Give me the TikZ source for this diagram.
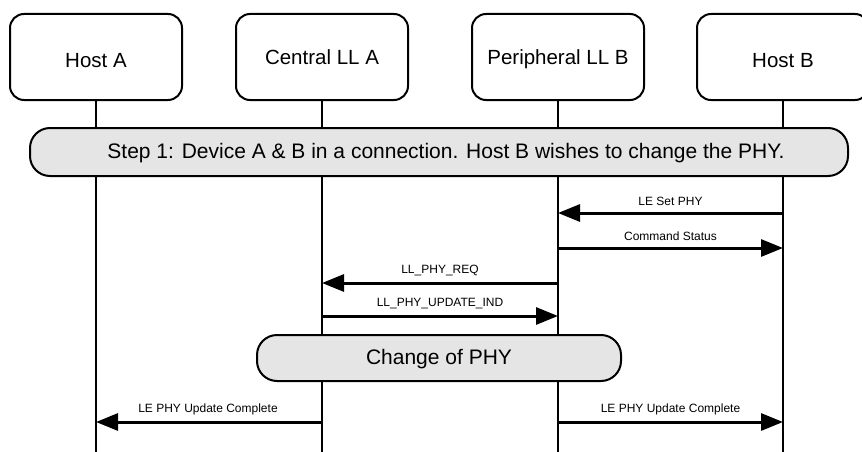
\documentclass[tikz,border=0pt]{standalone}
\usepackage{fontspec}
\setmainfont{Liberation Sans}
\usetikzlibrary{arrows.meta}
\begin{document}
\begin{tikzpicture}[x=1pt,y=-1pt,
  actor/.style={draw,line width=2pt,rounded corners=14pt,minimum width=172pt,minimum height=86pt,inner sep=0pt,font=\fontsize{20.5}{24}\selectfont,text height=20pt,text depth=5pt},
  hostactor/.style={actor,text height=23pt,text depth=2pt},
  band/.style={draw,line width=2pt,rounded corners=20pt,fill=black!10,inner sep=0pt,font=\fontsize{21}{24}\selectfont,text height=17pt,text depth=4pt},
  life/.style={line width=2pt},
  msg/.style={line width=3pt,-{Triangle[length=22pt,width=17pt]}},
  lbl/.style={font=\fontsize{12}{14}\selectfont,inner sep=0pt}]
\useasboundingbox (0,0) rectangle (862,452);
\clip (0,0) rectangle (862,452);
\node[hostactor] (ha) at (96,57) {Host A};
\node[actor] (ca) at (322,57) {Central LL A};
\node[actor] (pb) at (558,57) {Peripheral LL B};
\node[hostactor] (hb) at (783,57) {Host B};
\coordinate (haE) at (96,460);
\coordinate (caE) at (322,460);
\coordinate (pbE) at (558,460);
\coordinate (hbE) at (783,460);
\draw[life] (ha.south) -- (haE);
\draw[life] (ca.south) -- (caE);
\draw[life] (pb.south) -- (pbE);
\draw[life] (hb.south) -- (hbE);
\node[band,minimum width=818pt,minimum height=48pt] (s1) at (439,152) {\hspace{14pt}Step 1: Device A \& B in a connection. Host B wishes to change the PHY.};
% messages
\coordinate (m1a) at (783,213); \coordinate (m1b) at (558,213);
\draw[msg] (m1a) -- node[lbl,above=6pt] (l1) {LE Set PHY} (m1b);
\coordinate (m2a) at (558,248); \coordinate (m2b) at (783,248);
\draw[msg] (m2a) -- node[lbl,above=6pt] (l2) {Command Status} (m2b);
\coordinate (m3a) at (558,283); \coordinate (m3b) at (322,283);
\draw[msg] (m3a) -- node[lbl,above=6pt] (l3) {LL\_PHY\_REQ} (m3b);
\coordinate (m4a) at (322,316); \coordinate (m4b) at (558,316);
\draw[msg] (m4a) -- node[lbl,above=6pt] (l4) {LL\_PHY\_UPDATE\_IND} (m4b);
\node[band,minimum width=364pt,minimum height=46pt] (s2) at (439,358) {Change of PHY};
\coordinate (m5a) at (322,422); \coordinate (m5b) at (96,422);
\draw[msg] (m5a) -- node[lbl,above=6pt,xshift=-1pt] (l5) {LE PHY Update Complete} (m5b);
\coordinate (m6a) at (558,422); \coordinate (m6b) at (783,422);
\draw[msg] (m6a) -- node[lbl,above=6pt] (l6) {LE PHY Update Complete} (m6b);
\end{tikzpicture}
\end{document}
